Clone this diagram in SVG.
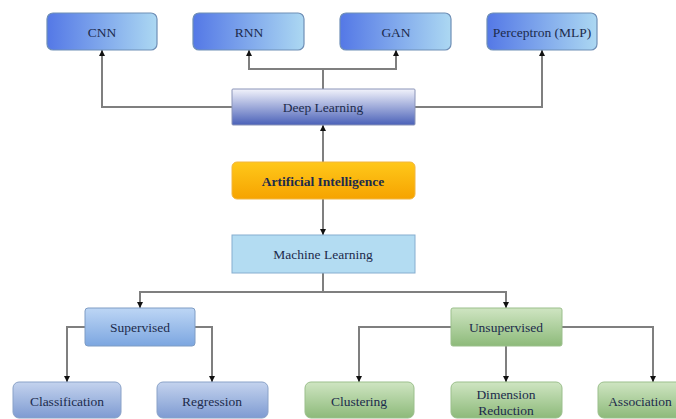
<svg xmlns="http://www.w3.org/2000/svg" width="676" height="419" viewBox="0 0 676 419">
<defs>
<linearGradient id="gTop" x1="0" y1="0" x2="1" y2="0"><stop offset="0" stop-color="#5478e6"/><stop offset="1" stop-color="#acd8f2"/></linearGradient>
<linearGradient id="gDL" x1="0" y1="0" x2="0" y2="1"><stop offset="0" stop-color="#f2f3fb"/><stop offset="1" stop-color="#4a61b8"/></linearGradient>
<linearGradient id="gAI" x1="0" y1="0" x2="0" y2="1"><stop offset="0" stop-color="#ffc81a"/><stop offset="1" stop-color="#f6a300"/></linearGradient>
<linearGradient id="gSup" x1="0" y1="0" x2="0" y2="1"><stop offset="0" stop-color="#bdd6f5"/><stop offset="1" stop-color="#7ca6e0"/></linearGradient>
<linearGradient id="gLeaf" x1="0" y1="0" x2="0" y2="1"><stop offset="0" stop-color="#c4d3ee"/><stop offset="1" stop-color="#7e9bd2"/></linearGradient>
<linearGradient id="gGreen" x1="0" y1="0" x2="0" y2="1"><stop offset="0" stop-color="#cfe5c2"/><stop offset="1" stop-color="#8dba7a"/></linearGradient>
<marker id="ah" viewBox="0 0 10 10" refX="10" refY="5" markerWidth="6" markerHeight="6" orient="auto" markerUnits="userSpaceOnUse"><path d="M0,0 L10,5 L0,10 z" fill="#111"/></marker>
</defs>
<style>
text{font-family:"Liberation Serif","Times New Roman",serif;font-size:13.5px;text-anchor:middle;dominant-baseline:central;fill:#1c2b4c}
.c{fill:none;stroke:#7f7f7f;stroke-width:2;marker-end:url(#ah)}
.cn{fill:none;stroke:#7f7f7f;stroke-width:2}
.top{fill:url(#gTop);stroke:#6f8fb6;stroke-width:1.2}
.sup{fill:url(#gSup);stroke:#7e9cc4;stroke-width:1}
.leaf{fill:url(#gLeaf);stroke:#8aa2c8;stroke-width:1}
.grn{fill:url(#gGreen);stroke:#9bbf8c;stroke-width:1}
</style>
<rect width="676" height="419" fill="#fff"/>
<g id="connectors">
<polyline class="c" points="232,107 102,107 102,50"/>
<polyline class="cn" points="323,89 323,69"/>
<polyline class="c" points="323,69 249,69 249,50"/>
<polyline class="c" points="323,69 396,69 396,50"/>
<polyline class="c" points="415,107 542,107 542,50"/>
<polyline class="c" points="323,162 323,125"/>
<polyline class="c" points="323,199 323,235"/>
<polyline class="cn" points="323,273 323,292"/>
<polyline class="c" points="323,292 140,292 140,308"/>
<polyline class="c" points="323,292 506,292 506,308"/>
<polyline class="c" points="85,327 67,327 67,382"/>
<polyline class="c" points="195,327 212,327 212,382"/>
<polyline class="c" points="451,327 359,327 359,382"/>
<polyline class="c" points="506,346 506,382"/>
<polyline class="c" points="562,327 653,327 653,382"/>
</g>
<g id="cnn"><rect class="top" x="47" y="13" width="110" height="37" rx="6"/><text x="102" y="32">CNN</text></g>
<g id="rnn"><rect class="top" x="193" y="13" width="111" height="37" rx="6"/><text x="249" y="32">RNN</text></g>
<g id="gan"><rect class="top" x="340" y="13" width="111" height="37" rx="6"/><text x="396" y="32">GAN</text></g>
<g id="mlp"><rect class="top" x="487" y="13" width="110" height="37" rx="6"/><text x="542" y="32">Perceptron (MLP)</text></g>
<g id="deep-learning"><rect x="232" y="89" width="183" height="36" rx="1" fill="url(#gDL)" stroke="#8a94b8" stroke-width="1"/><text x="323" y="107">Deep Learning</text></g>
<g id="ai"><rect x="232" y="162" width="183" height="37" rx="5" fill="url(#gAI)" stroke="#f2b640" stroke-width="1"/><text x="323" y="181" font-weight="bold" fill="#2a1a0a">Artificial Intelligence</text></g>
<g id="machine-learning"><rect x="232" y="235" width="183" height="38" fill="#b3dcf2" stroke="#86aed0" stroke-width="1"/><text x="323" y="254">Machine Learning</text></g>
<g id="supervised"><rect class="sup" x="85" y="308" width="110" height="38" rx="3"/><text x="140" y="327">Supervised</text></g>
<g id="unsupervised"><rect class="grn" x="451" y="308" width="111" height="38" rx="2"/><text x="506" y="327">Unsupervised</text></g>
<g id="classification"><rect class="leaf" x="13" y="382" width="108" height="36" rx="6"/><text x="67" y="401">Classification</text></g>
<g id="regression"><rect class="leaf" x="157" y="382" width="111" height="36" rx="6"/><text x="212" y="401">Regression</text></g>
<g id="clustering"><rect class="grn" x="305" y="382" width="109" height="36" rx="6"/><text x="359" y="401">Clustering</text></g>
<g id="dimension-reduction"><rect class="grn" x="451" y="382" width="111" height="36" rx="6"/><text x="506" y="394">Dimension</text><text x="506" y="410">Reduction</text></g>
<g id="association"><rect class="grn" x="598" y="382" width="110" height="36" rx="6"/><text x="640" y="401">Association</text></g>
</svg>
